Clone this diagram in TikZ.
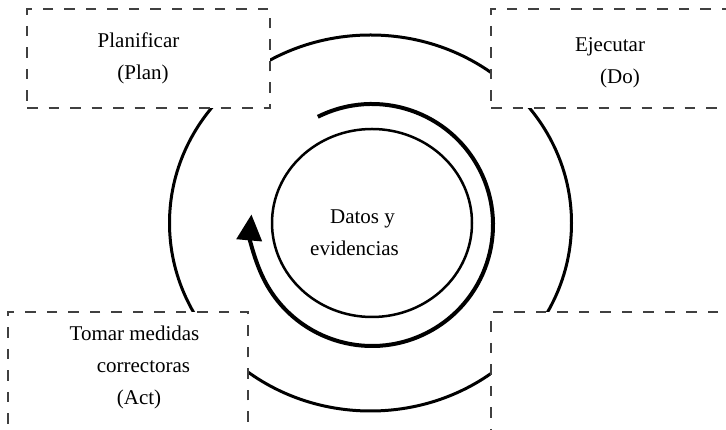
\documentclass[tikz,border=0pt]{standalone}
\usepackage{fontspec}
\setmainfont{Liberation Serif}
\usepackage{tikz}
\usetikzlibrary{arrows.meta}
\tikzset{caja/.style={rectangle,draw=black!75,line width=1.5pt,dash pattern=on 10.5pt off 11pt,fill=white,inner sep=0pt},
	texto/.style={align=center,font=\fontsize{21}{32}\selectfont}}
\begin{document}
\begin{tikzpicture}[x=1pt,y=1pt] % ciclo PDCA
				\useasboundingbox (0,0) rectangle (726,430);\clip (0,0) rectangle (726,430);
				\coordinate (O) at (370.5,207);\coordinate (C) at (372,207);\coordinate (S) at (372,205);
				\draw[line width=3pt] (O) ellipse [x radius=201,y radius=188];
				\node[caja,minimum width=243pt,minimum height=99pt] (P) at (148.5,371.5) {};
				\node[caja,minimum width=243pt,minimum height=99pt] (D) at (612.5,371.5) {};
				\node[caja,minimum width=240pt,minimum height=128pt] (A) at (128,54) {};
				\node[caja,minimum width=243pt,minimum height=128pt] (V) at (612.5,54) {};
				\node[texto] (TP) at (138.5,372) {Planificar\\\hspace*{9pt}(Plan)};
				\node[texto] (TD) at (610,367.5) {Ejecutar\\\hspace*{20pt}(Do)};
				\node[texto] (TA) at (134.5,62.5) {Tomar medidas\\\hspace*{18pt}correctoras\\\hspace*{9pt}(Act)};
				\draw[line width=2.5pt] (C) ellipse [x radius=100,y radius=94];
				\node[texto] (TC) at (354.5,197.5) {\hspace*{16pt}Datos y\\evidencias};
				\draw[line width=4pt,-{Triangle[length=26pt,width=25pt]}] ([shift={(116.6:121)}]S) arc[start angle=116.6,end angle=-185,radius=121];
			\end{tikzpicture}
\end{document}
